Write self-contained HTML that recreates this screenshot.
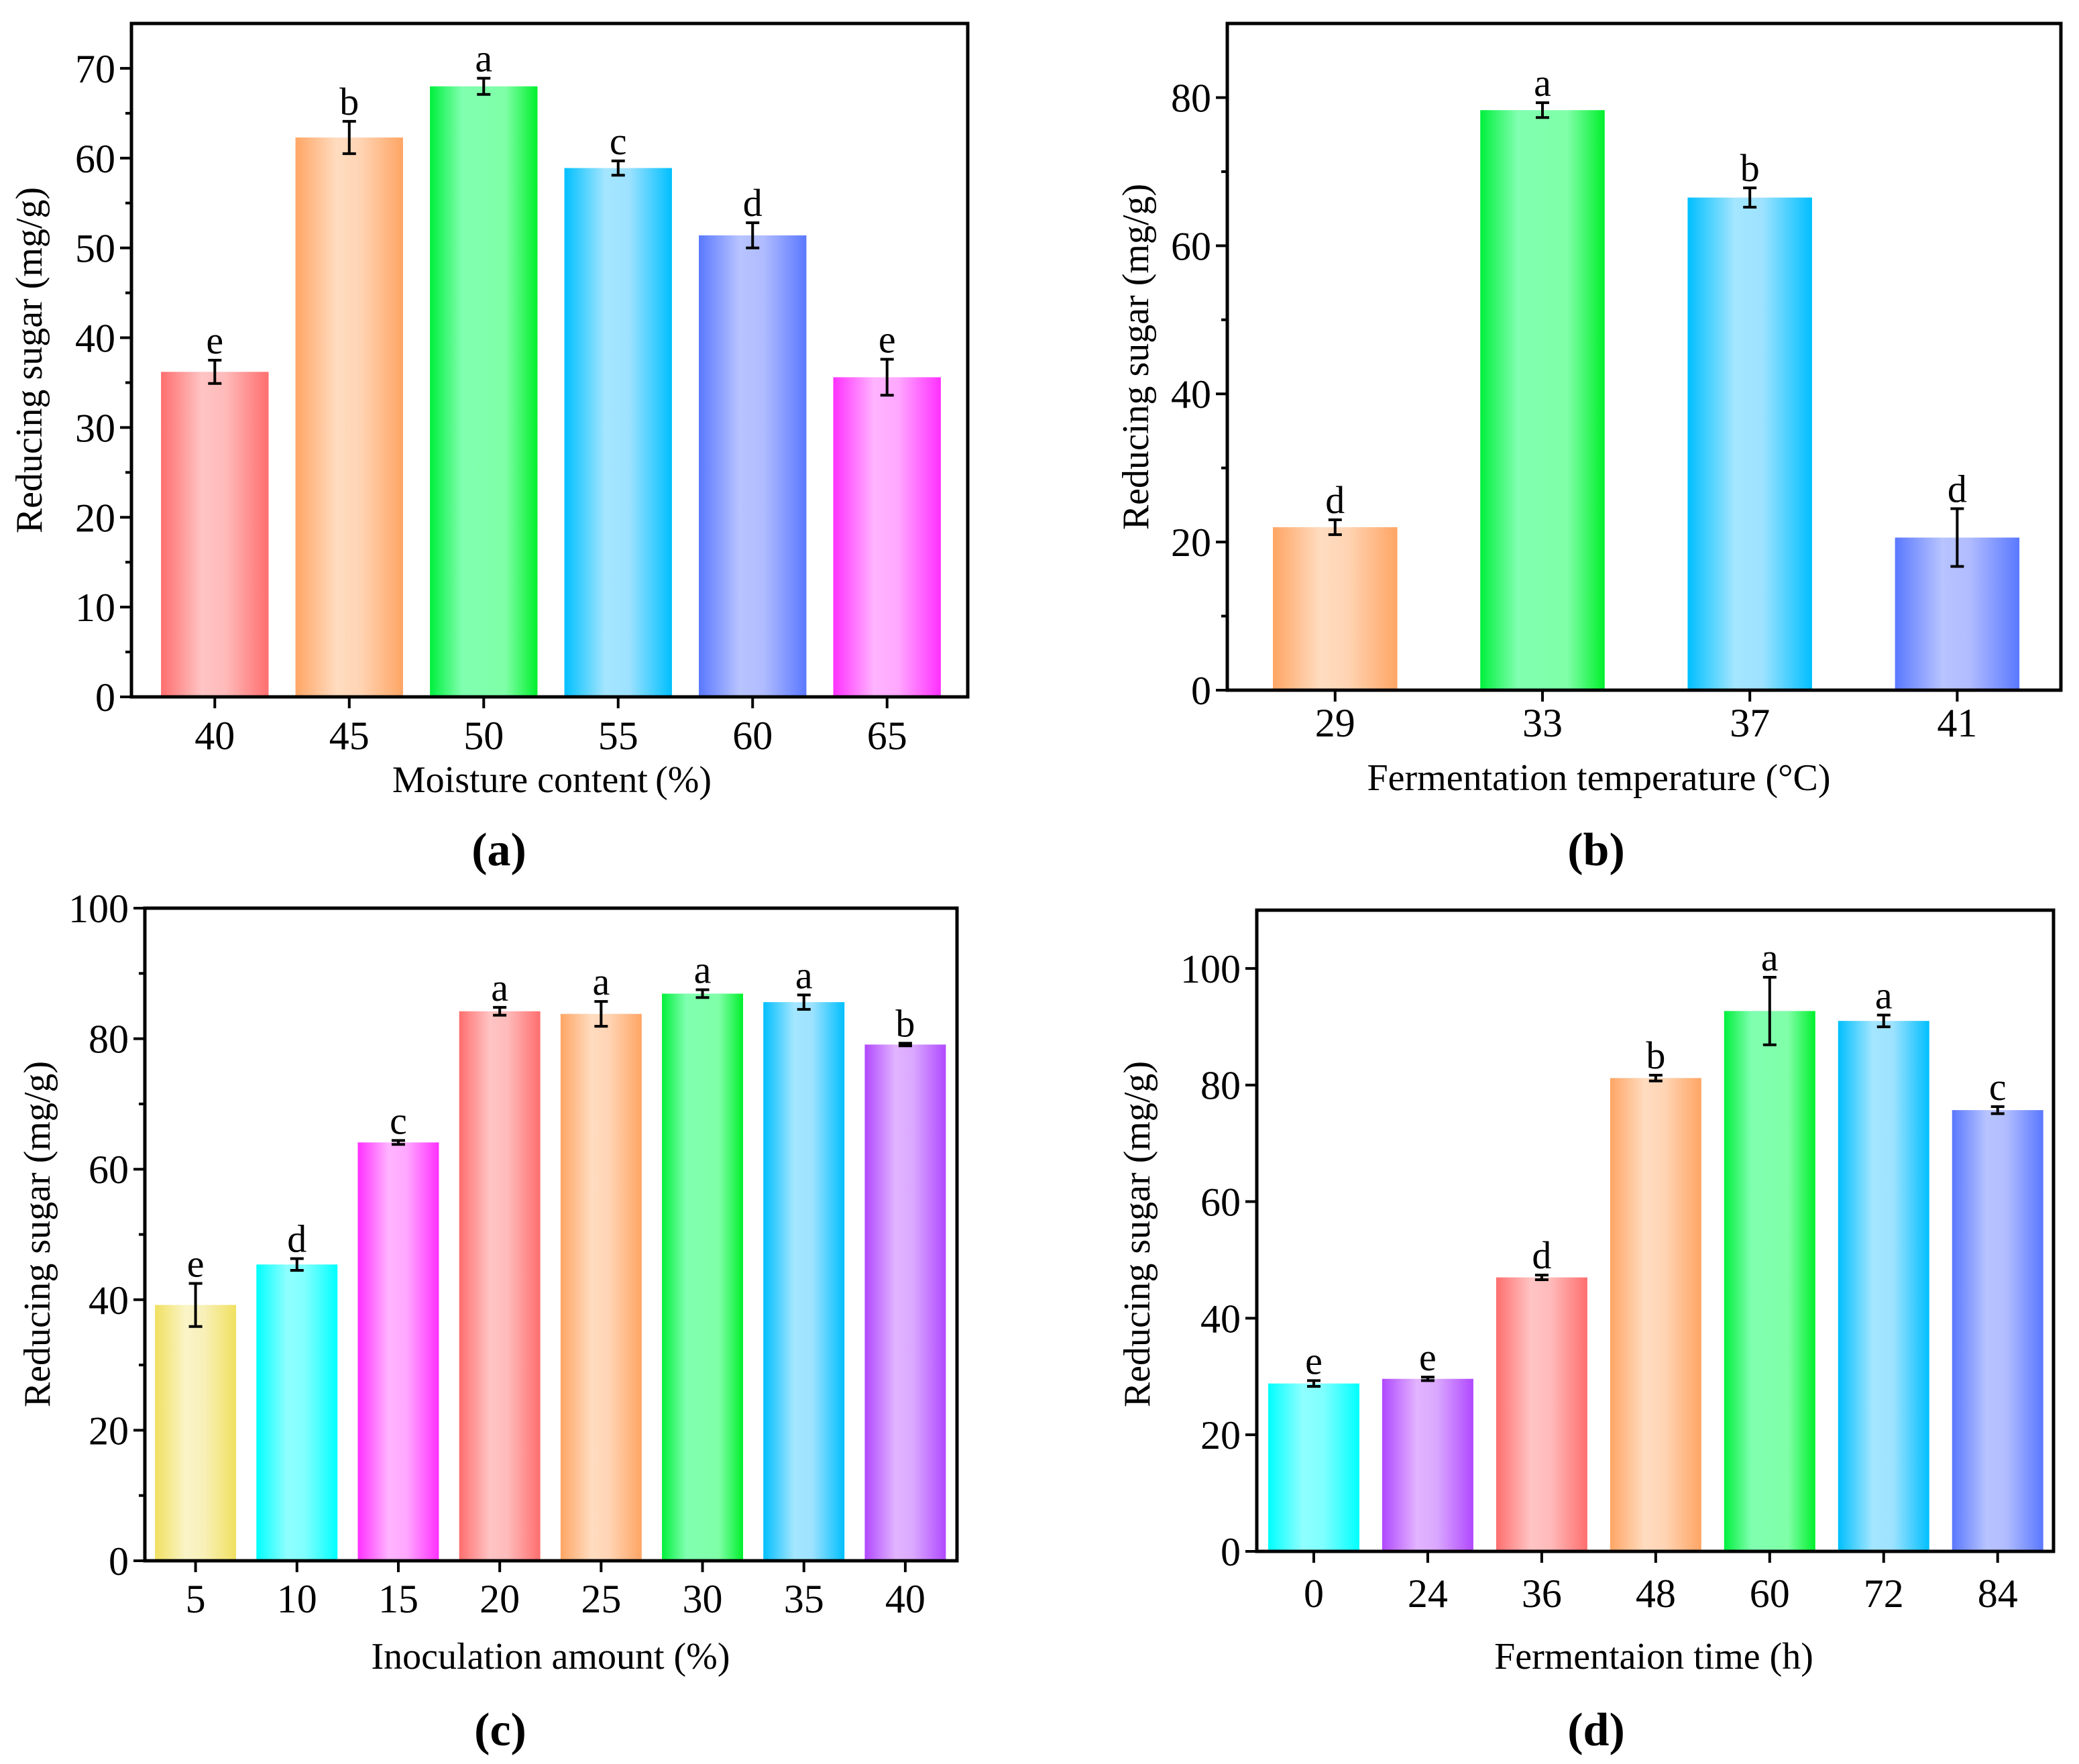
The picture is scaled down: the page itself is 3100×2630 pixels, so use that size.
<!DOCTYPE html>
<html><head><meta charset="utf-8">
<style>
html,body{margin:0;padding:0;background:#fff;}
svg{display:block;font-family:"Liberation Serif","DejaVu Serif",serif;}
svg text{font-family:"Liberation Serif","DejaVu Serif",serif;}
</style></head>
<body>
<svg id="fig" width="3100" height="2630" viewBox="0 0 3100 2630" xmlns="http://www.w3.org/2000/svg" font-family="Liberation Serif, DejaVu Serif, serif">
<defs>
<linearGradient id="g-red" x1="0" x2="1" y1="0" y2="0"><stop offset="0" stop-color="#ff6e6e"/><stop offset="0.38" stop-color="#ffc4c4"/><stop offset="0.6" stop-color="#ffbaba"/><stop offset="1" stop-color="#ff6e6e"/></linearGradient>
<linearGradient id="g-orange" x1="0" x2="1" y1="0" y2="0"><stop offset="0" stop-color="#ffa564"/><stop offset="0.38" stop-color="#ffdcc0"/><stop offset="0.6" stop-color="#ffd4b4"/><stop offset="1" stop-color="#ffa564"/></linearGradient>
<linearGradient id="g-green" x1="0" x2="1" y1="0" y2="0"><stop offset="0" stop-color="#00f03c"/><stop offset="0.3" stop-color="#80ffb0"/><stop offset="0.7" stop-color="#80ffa8"/><stop offset="1" stop-color="#00f02c"/></linearGradient>
<linearGradient id="g-sky" x1="0" x2="1" y1="0" y2="0"><stop offset="0" stop-color="#00bfff"/><stop offset="0.38" stop-color="#a4e6ff"/><stop offset="0.6" stop-color="#9ee2ff"/><stop offset="1" stop-color="#00bfff"/></linearGradient>
<linearGradient id="g-blue" x1="0" x2="1" y1="0" y2="0"><stop offset="0" stop-color="#5a78ff"/><stop offset="0.38" stop-color="#b8c4ff"/><stop offset="0.6" stop-color="#b0bcff"/><stop offset="1" stop-color="#5a78ff"/></linearGradient>
<linearGradient id="g-magenta" x1="0" x2="1" y1="0" y2="0"><stop offset="0" stop-color="#ff30ff"/><stop offset="0.38" stop-color="#ffb4ff"/><stop offset="0.6" stop-color="#ffa8ff"/><stop offset="1" stop-color="#ff30ff"/></linearGradient>
<linearGradient id="g-cyan" x1="0" x2="1" y1="0" y2="0"><stop offset="0" stop-color="#00ffff"/><stop offset="0.38" stop-color="#90ffff"/><stop offset="0.6" stop-color="#80ffff"/><stop offset="1" stop-color="#00ffff"/></linearGradient>
<linearGradient id="g-purple" x1="0" x2="1" y1="0" y2="0"><stop offset="0" stop-color="#b048ff"/><stop offset="0.38" stop-color="#e2b4ff"/><stop offset="0.6" stop-color="#daa8ff"/><stop offset="1" stop-color="#b048ff"/></linearGradient>
<linearGradient id="g-yellow" x1="0" x2="1" y1="0" y2="0"><stop offset="0" stop-color="#f0e060"/><stop offset="0.38" stop-color="#faf4c8"/><stop offset="0.6" stop-color="#f8f0b8"/><stop offset="1" stop-color="#f0e060"/></linearGradient>
</defs>
</svg>
<script>
// ---- data arrays ----
const catsA = ["40","45","50","55","60","65"];
const valsA = [36.2, 62.3, 68.0, 58.9, 51.4, 35.6];
const errsA = [1.3, 1.8, 0.9, 0.8, 1.4, 2.0];
const letA  = ["e","b","a","c","d","e"];
const ticksA = [0,10,20,30,40,50,60,70];

const catsB = ["29","33","37","41"];
const valsB = [22.0, 78.3, 66.5, 20.6];
const errsB = [1.0, 1.0, 1.3, 3.9];
const letB  = ["d","a","b","d"];
const ticksB = [0,20,40,60,80];

const catsC = ["5","10","15","20","25","30","35","40"];
const valsC = [39.2, 45.4, 64.1, 84.2, 83.8, 86.9, 85.6, 79.1];
const errsC = [3.3, 0.9, 0.3, 0.6, 1.9, 0.6, 1.1, 0.2];
const letC  = ["e","d","c","a","a","a","a","b"];
const ticksC = [0,20,40,60,80,100];

const catsD = ["0","24","36","48","60","72","84"];
const valsD = [28.8, 29.6, 47.0, 81.2, 92.7, 91.0, 75.7];
const errsD = [0.5, 0.3, 0.4, 0.5, 5.8, 1.0, 0.6];
const letD  = ["e","e","d","b","a","a","c"];
const ticksD = [0,20,40,60,80,100];

const NS = "http://www.w3.org/2000/svg";
const FONT = "Liberation Serif, DejaVu Serif, serif";
const svg = document.getElementById('fig');
function mk(tag, attrs, parent){ const e=document.createElementNS(NS,tag); for(const k in attrs) e.setAttribute(k,attrs[k]); if(tag==='text') e.setAttribute('font-family', FONT); (parent||svg).appendChild(e); return e; }

function panel(cfg, cats, vals, errs, lets, ticks){
  const g = mk('g',{});
  
  
  const n = cats.length;
  const xs = i => cfg.L + (i - cfg.x0) / (cfg.x1 - cfg.x0) * (cfg.R - cfg.L);
  const ys = v => cfg.B - v / cfg.ymax * (cfg.B - cfg.T);
  const step = (cfg.R - cfg.L) / (cfg.x1 - cfg.x0);
  const bw = step * cfg.bw;
  for(let i=0;i<n;i++){
    const cx = xs(i);
    const r = mk('rect',{x:cx-bw/2, y:ys(vals[i]), width:bw, height:ys(0)-ys(vals[i]), fill:'url(#g-'+cfg.colors[i]+')'}, g);
    
    
    const eb = mk('path',{d:`M${cx},${ys(vals[i]+errs[i])}V${ys(vals[i]-errs[i])}M${cx-10},${ys(vals[i]+errs[i])}h20M${cx-10},${ys(vals[i]-errs[i])}h20`, stroke:'#000','stroke-width':4, fill:'none'}, g);
    
    
    const t = mk('text',{x:cx, y:ys(vals[i]+errs[i])-10, 'text-anchor':'middle','font-size':58}, g);
    t.textContent = lets[i];
    
    
    const tk = mk('line',{x1:cx,x2:cx,y1:cfg.B,y2:cfg.B+17,stroke:'#000','stroke-width':4}, g);
    
    
    const tl = mk('text',{x:cx, y:cfg.xtb+4, 'text-anchor':'middle','font-size':60}, g);
    tl.textContent = cats[i];
    
    
  }
  for(const v of ticks){
    const y = ys(v);
    const tk = mk('line',{x1:cfg.L-17,x2:cfg.L,y1:y,y2:y,stroke:'#000','stroke-width':4}, g);
    
    
    const tl = mk('text',{x:cfg.L-24, y:y+21, 'text-anchor':'end','font-size':60}, g);
    tl.textContent = v;
    
    
  }
  if(cfg.minor){
    for(let v=cfg.minor; v<cfg.ymax; v+=cfg.minor*2){
      const y = ys(v);
      const m = mk('line',{x1:cfg.L-9,x2:cfg.L,y1:y,y2:y,stroke:'#000','stroke-width':4}, g);
      
      
    }
  }
  const fr = mk('rect',{x:cfg.L,y:cfg.T,width:cfg.R-cfg.L,height:cfg.B-cfg.T,fill:'none',stroke:'#000','stroke-width':5}, g);
  
  
  const yt = mk('text',{x:0,y:0,'text-anchor':'middle','font-size':56, transform:`translate(${cfg.ytx},${cfg.yty}) rotate(-90)`}, g);
  yt.textContent = 'Reducing sugar (mg/g)';
  
  
  const xt = mk('text',{x:cfg.xtx,y:cfg.xty,'text-anchor':'middle','font-size':56}, g);
  xt.textContent = cfg.xtitle;
  
  
  const pl = mk('text',{x:cfg.plx,y:cfg.ply,'text-anchor':'middle','font-size':70,'font-weight':'bold'}, g);
  pl.textContent = cfg.label;
  
  
}

panel({name:'panel-a',L:196,R:1443,T:35,B:1039,ymax:75,x0:-0.62,x1:5.6,bw:0.8,minor:5,
  colors:['red','orange','green','sky','blue','magenta'],xtb:1113,ytx:62,yty:537,
  xtitle:'Moisture content\u2009(%)',xtx:823,xty:1181,label:'(a)',plx:744,ply:1290},
  catsA,valsA,errsA,letA,ticksA);
panel({name:'panel-b',L:1830,R:3073,T:35,B:1029,ymax:90,x0:-0.52,x1:3.5,bw:0.6,minor:10,
  colors:['orange','green','sky','blue'],xtb:1094,ytx:1712,yty:532,
  xtitle:'Fermentation temperature (\u00B0C)',xtx:2384,xty:1178,label:'(b)',plx:2380,ply:1290},
  catsB,valsB,errsB,letB,ticksB);
panel({name:'panel-c',L:216,R:1427,T:1354,B:2327,ymax:100,x0:-0.5,x1:7.51,bw:0.8,minor:10,
  colors:['yellow','cyan','magenta','red','orange','green','sky','purple'],xtb:2400,ytx:74,yty:1840,
  xtitle:'Inoculation amount (%)',xtx:821,xty:2488,label:'(c)',plx:746,ply:2602},
  catsC,valsC,errsC,letC,ticksC);
panel({name:'panel-d',L:1874,R:3062,T:1357,B:2313,ymax:110,x0:-0.5,x1:6.49,bw:0.8,minor:0,
  colors:['cyan','purple','red','orange','green','sky','blue'],xtb:2392,ytx:1714,yty:1840,
  xtitle:'Fermentaion time (h)',xtx:2466,xty:2488,label:'(d)',plx:2380,ply:2602},
  catsD,valsD,errsD,letD,ticksD);
</script>
</body></html>
